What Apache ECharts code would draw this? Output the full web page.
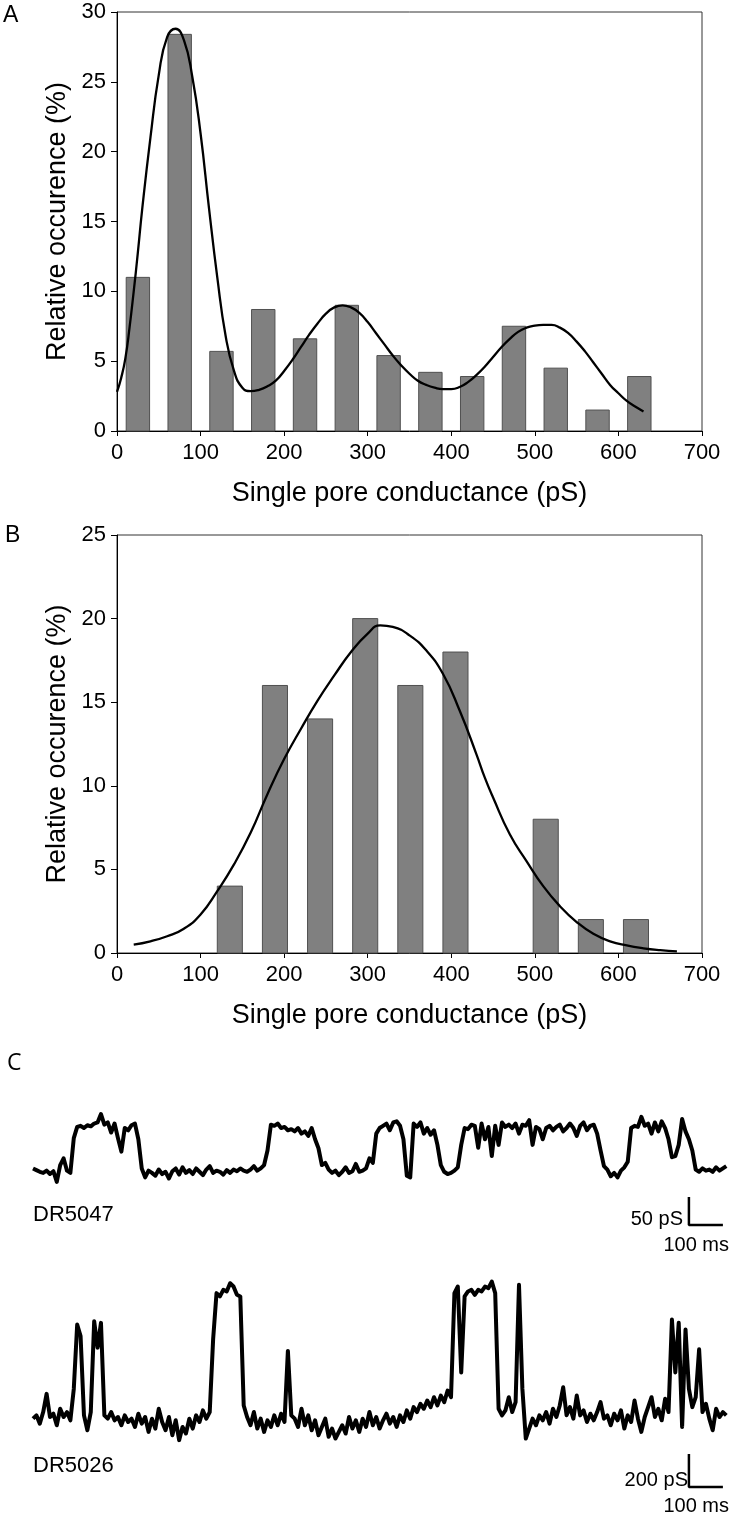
<!DOCTYPE html>
<html><head><meta charset="utf-8">
<script src="https://cdn.jsdelivr.net/npm/echarts/dist/echarts.min.js"></script>
<style>html,body{margin:0;padding:0;background:#fff}#c{width:734px;height:1526px}</style>
</head><body><div id="c"></div>
<script>
// ---------- Panel A ----------
const A_binCenters = [25, 75, 125, 175, 225, 275, 325, 375, 425, 475, 525, 575, 625];
const A_occurrence = [11.0, 28.4, 5.7, 8.7, 6.6, 9.0, 5.4, 4.2, 3.9, 7.5, 4.5, 1.5, 3.9];
const A_fitX = [0,5,10,15,20,25,30,40,50,60,70,80,90,100,110,120,130,140,150,160,170,180,190,200,210,220,230,240,250,260,270,280,290,300,310,320,330,340,350,360,370,380,390,400,410,420,430,440,450,460,470,480,490,500,510,520,530,540,550,560,570,580,590,600,610,620,630];
const A_fitY = [2.8,3.8,5.2,7.4,10.0,12.8,15.8,21.0,25.5,28.2,28.8,28.0,25.4,21.3,16.0,11.0,6.8,4.3,3.1,2.85,2.95,3.2,3.6,4.3,5.1,6.0,6.9,7.7,8.4,8.85,9.0,8.85,8.45,7.8,7.0,6.2,5.4,4.7,4.1,3.6,3.3,3.1,3.0,3.0,3.15,3.5,4.0,4.6,5.3,6.0,6.6,7.1,7.4,7.55,7.6,7.6,7.4,7.0,6.4,5.7,4.9,4.1,3.3,2.7,2.15,1.75,1.4];

// ---------- Panel B ----------
const B_binCenters = [135, 189, 243, 297, 351, 405, 513, 567, 621];
const B_occurrence = [4, 16, 14, 20, 16, 18, 8, 2, 2];
const B_fitX = [20,40,60,80,100,120,140,160,180,200,220,240,260,280,300,315,330,350,370,390,410,430,440,450,470,490,510,530,550,570,590,610,630,650,670];
const B_fitY = [0.5,0.7,1.0,1.45,2.3,3.7,5.3,7.2,9.5,11.6,13.4,15.1,16.6,18.0,19.1,19.6,19.5,19.0,18.1,16.7,14.5,11.9,10.5,9.3,7.1,5.5,4.0,2.8,1.85,1.15,0.7,0.45,0.28,0.17,0.1];

// ---------- Panel C (traces, sampled every 10 ms; values in pS) ----------
const TRACE_DT = 10;
const trace1 = [8,5,2,0,4,-2,3,-16,14,26,4,0,62,82,84,80,85,83,88,90,105,86,90,72,88,62,38,80,76,85,88,60,8,-8,4,0,-5,6,-2,2,-10,3,8,-3,10,0,5,-2,8,2,-4,6,12,0,4,2,-3,5,0,6,3,8,4,2,6,12,4,8,14,40,86,84,88,80,82,76,78,74,80,70,74,66,80,60,44,14,18,6,0,4,-4,2,10,0,3,16,2,4,8,26,18,70,80,84,88,76,90,92,84,60,-5,-8,88,82,90,70,80,68,76,50,14,2,-2,0,4,10,50,80,78,86,84,45,88,60,82,30,84,50,90,82,86,80,88,70,86,84,94,50,82,78,60,80,84,76,82,86,74,80,88,80,66,84,90,76,84,86,70,40,12,6,-6,0,-8,4,10,20,80,84,82,100,84,88,70,90,74,92,80,60,28,30,50,96,74,60,40,6,2,8,4,6,2,10,4,8,12];
const trace2 = [20,40,-10,60,170,30,50,-20,80,30,60,10,200,590,520,40,-50,60,610,450,600,40,20,60,10,30,-20,40,0,20,-30,50,-10,30,-60,20,-40,80,0,-50,30,-80,10,-110,-30,-70,20,-40,40,0,70,20,60,500,780,760,800,790,840,820,770,760,100,30,-20,60,-40,20,-60,10,-30,40,-20,50,0,430,40,20,-30,80,-20,40,-50,10,-80,-30,20,-90,-40,-100,-60,-20,-70,30,-40,10,-60,20,-30,60,-20,30,-40,10,50,-10,30,-30,40,0,70,20,90,60,110,80,130,90,150,100,160,120,190,150,780,820,300,760,790,800,770,800,790,820,810,850,780,80,40,70,150,60,120,830,200,-100,-40,20,-20,40,10,60,-10,80,30,100,210,40,90,20,160,40,70,0,50,10,60,120,20,40,-20,50,10,70,-40,40,0,130,20,-60,30,90,150,30,80,10,140,60,620,300,600,-30,560,200,90,150,440,60,110,20,-50,80,30,60,40];
// scale bars: [time ms, pS]
const scaleBar1 = [[1930, -43], [1930, -93], [2030, -93]];   // 50 pS / 100 ms
const scaleBar2 = [[1930, -194], [1930, -394], [2030, -394]]; // 200 pS / 100 ms

const FONT = "'Liberation Sans', Arial, sans-serif";
const HALF_A = 14, HALF_B = 15; // half bar width in pS

function barRenderer(half) {
  return function (params, api) {
    const x = api.value(0), y = api.value(1);
    const p0 = api.coord([x - half, y]);
    const p1 = api.coord([x + half, 0]);
    return { type: 'rect', shape: { x: p0[0], y: p0[1], width: p1[0] - p0[0], height: p1[1] - p0[1] },
      style: { fill: '#808080', stroke: '#505050', lineWidth: 1 } };
  };
}
function histXAxis(gi) {
  return { gridIndex: gi, type: 'value', min: 0, max: 700, interval: 100,
    name: 'Single pore conductance (pS)', nameLocation: 'middle', nameGap: 49,
    nameTextStyle: { fontFamily: FONT, fontSize: 27, color: '#000' },
    axisLine: { lineStyle: { color: '#000', width: 1 } },
    axisTick: { show: true, length: 5, lineStyle: { color: '#000' } },
    axisLabel: { fontFamily: FONT, fontSize: 22, color: '#000', margin: 11 },
    splitLine: { show: false } };
}
function histYAxis(gi, max) {
  return { gridIndex: gi, type: 'value', min: 0, max: max, interval: 5,
    name: 'Relative occurence (%)', nameLocation: 'middle', nameGap: 44, nameRotate: 90,
    nameTextStyle: { fontFamily: FONT, fontSize: 27, color: '#000' },
    axisLine: { show: true, lineStyle: { color: '#000', width: 1 } },
    axisTick: { show: true, length: 6, lineStyle: { color: '#000' } },
    axisLabel: { fontFamily: FONT, fontSize: 22, color: '#000', margin: 11 },
    splitLine: { show: false } };
}
function hiddenAxis(gi, min, max) {
  return { gridIndex: gi, type: 'value', min: min, max: max, show: false, splitLine: { show: false } };
}
const times1 = trace1.map((v, i) => [i * TRACE_DT, v]);
const times2 = trace2.map((v, i) => [i * TRACE_DT, v]);

const chart = echarts.init(document.getElementById('c'), null, { renderer: 'canvas' });
chart.setOption({
  animation: false,
  backgroundColor: '#fff',
  grid: [
    { left: 117, top: 12, width: 585, height: 419, show: true, borderColor: '#333', borderWidth: 1 },
    { left: 117, top: 535, width: 585, height: 418, show: true, borderColor: '#333', borderWidth: 1 },
    { left: 33, top: 1100, width: 695, height: 129 },
    { left: 33, top: 1270, width: 695, height: 223 }
  ],
  xAxis: [histXAxis(0), histXAxis(1), hiddenAxis(2, 0, 2045), hiddenAxis(3, 0, 2045)],
  yAxis: [histYAxis(0, 30), histYAxis(1, 25), hiddenAxis(2, -100, 130), hiddenAxis(3, -430, 920)],
  series: [
    { type: 'custom', xAxisIndex: 0, yAxisIndex: 0, renderItem: barRenderer(HALF_A),
      data: A_binCenters.map((c, i) => [c, A_occurrence[i]]), z: 2 },
    { type: 'line', xAxisIndex: 0, yAxisIndex: 0, smooth: true, symbol: 'none',
      lineStyle: { color: '#000', width: 2.3 }, data: A_fitX.map((x, i) => [x, A_fitY[i]]), z: 3 },
    { type: 'custom', xAxisIndex: 1, yAxisIndex: 1, renderItem: barRenderer(HALF_B),
      data: B_binCenters.map((c, i) => [c, B_occurrence[i]]), z: 2 },
    { type: 'line', xAxisIndex: 1, yAxisIndex: 1, smooth: true, symbol: 'none',
      lineStyle: { color: '#000', width: 2.3 }, data: B_fitX.map((x, i) => [x, B_fitY[i]]), z: 3 },
    { type: 'line', xAxisIndex: 2, yAxisIndex: 2, symbol: 'none',
      lineStyle: { color: '#000', width: 4, join: 'round' }, data: times1 },
    { type: 'line', xAxisIndex: 2, yAxisIndex: 2, symbol: 'none',
      lineStyle: { color: '#000', width: 2.5 }, data: scaleBar1 },
    { type: 'line', xAxisIndex: 3, yAxisIndex: 3, symbol: 'none',
      lineStyle: { color: '#000', width: 4, join: 'round' }, data: times2 },
    { type: 'line', xAxisIndex: 3, yAxisIndex: 3, symbol: 'none',
      lineStyle: { color: '#000', width: 2.5 }, data: scaleBar2 }
  ],
  graphic: [
    { type: 'text', left: 3, top: 4, style: { text: 'A', font: '23px ' + FONT, fill: '#000' } },
    { type: 'text', left: 5, top: 524, style: { text: 'B', font: '23px ' + FONT, fill: '#000' } },
    { type: 'text', left: 7, top: 1052, style: { text: 'C', font: '23px "Open Sans", ' + FONT, fill: '#000' } },
    { type: 'text', x: 33, y: 1215, style: { text: 'DR5047', font: '22px ' + FONT, fill: '#000', verticalAlign: 'middle' } },
    { type: 'text', x: 683, y: 1219, style: { text: '50 pS', font: '20px ' + FONT, fill: '#000', align: 'right', verticalAlign: 'middle' } },
    { type: 'text', x: 729, y: 1245, style: { text: '100 ms', font: '20px ' + FONT, fill: '#000', align: 'right', verticalAlign: 'middle' } },
    { type: 'text', x: 33, y: 1466, style: { text: 'DR5026', font: '22px ' + FONT, fill: '#000', verticalAlign: 'middle' } },
    { type: 'text', x: 688, y: 1480, style: { text: '200 pS', font: '20px ' + FONT, fill: '#000', align: 'right', verticalAlign: 'middle' } },
    { type: 'text', x: 729, y: 1506, style: { text: '100 ms', font: '20px ' + FONT, fill: '#000', align: 'right', verticalAlign: 'middle' } }
  ]
});
</script></body></html>
